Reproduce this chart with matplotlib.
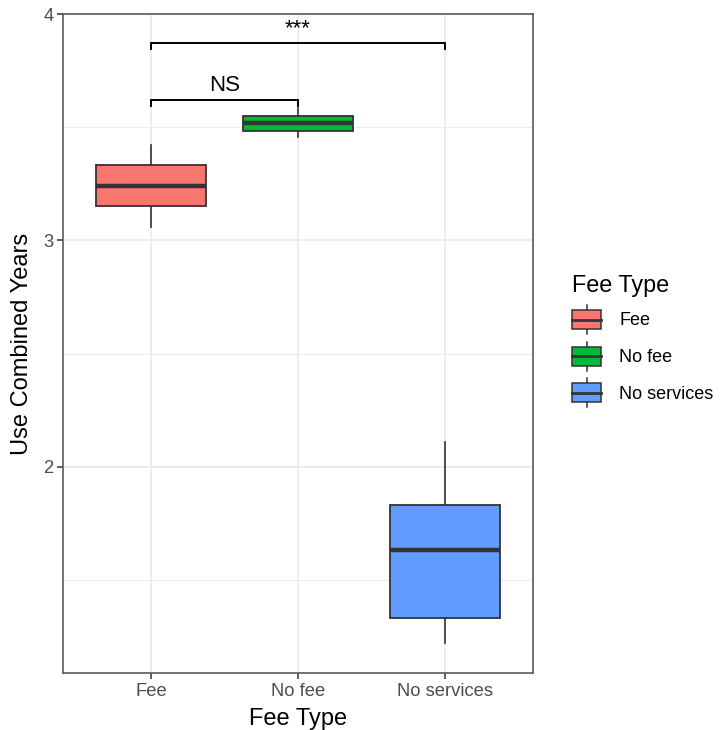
import matplotlib
matplotlib.use("Agg")
import matplotlib.pyplot as plt
from matplotlib.legend_handler import HandlerBase
from matplotlib.patches import Rectangle
from matplotlib.lines import Line2D

plt.rcParams['font.family'] = ['Liberation Sans', 'DejaVu Sans']

categories = ["Fee", "No fee", "No services"]
whisker_low = [3.061, 3.455, 1.223]
q1 = [3.151, 3.484, 1.331]
medians = [3.242, 3.517, 1.632]
q3 = [3.332, 3.551, 1.831]
whisker_high = [3.420, 3.583, 2.108]
colors = ["#F8766D", "#00BA38", "#619CFF"]

sig_pairs = [(1, 2), (1, 3)]
sig_labels = ["NS", "***"]
sig_heights = [3.620, 3.871]

fig = plt.figure(figsize=(7.2, 7.3), dpi=100)
ax = fig.add_axes([0.0875, 0.0781, 0.6528, 0.9027])

stats = []
for i, c in enumerate(categories):
    stats.append(dict(label=c, whislo=whisker_low[i], q1=q1[i], med=medians[i],
                      q3=q3[i], whishi=whisker_high[i], fliers=[]))

edge = "#333333"
bp = ax.bxp(stats, positions=[1, 2, 3], widths=0.75, patch_artist=True,
            showcaps=False, showfliers=False,
            boxprops=dict(edgecolor=edge, linewidth=1.3),
            medianprops=dict(color=edge, linewidth=3.2, solid_capstyle='butt'),
            whiskerprops=dict(color=edge, linewidth=1.2), zorder=3)
for patch, col in zip(bp['boxes'], colors):
    patch.set_facecolor(col)

ax.set_xlim(0.4, 3.6)
ax.set_ylim(1.089, 4.0)
ax.set_yticks([2, 3, 4])
ax.set_yticks([1.5, 2.5, 3.5], minor=True)
ax.set_xticks([1, 2, 3])
ax.set_xticklabels(categories)
ax.grid(which='major', color='#EBEBEB', linewidth=1.3, zorder=0)
ax.grid(which='minor', axis='y', color='#EBEBEB', linewidth=0.7, zorder=0)
ax.set_axisbelow(True)
ax.tick_params(which='major', length=4, width=1.1, color='#333333',
               labelsize=13.2, labelcolor='#4D4D4D', pad=3)
ax.tick_params(which='minor', length=0)
for s in ax.spines.values():
    s.set_color('#5a5a5a')
    s.set_linewidth(1.2)

ax.set_xlabel("Fee Type", fontsize=17, labelpad=6)
ax.set_ylabel("Use Combined Years", fontsize=17, labelpad=7)

# significance brackets
tip = 0.026
for (a, b), lab, h in zip(sig_pairs, sig_labels, sig_heights):
    ax.plot([a, a, b, b], [h - tip, h, h, h - tip], color='black', linewidth=1.4,
            zorder=4, solid_joinstyle='miter')
    ax.annotate(lab, xy=((a + b) / 2, h), xytext=(0, 6.5), textcoords='offset points',
                ha='center', va='baseline', fontsize=16)


class HandlerBox(HandlerBase):
    def create_artists(self, legend, orig_handle, xdescent, ydescent, width,
                       height, fontsize, trans):
        x0, y0 = -xdescent, -ydescent
        cx = x0 + width / 2
        b0 = y0 + height * 0.17
        b1 = y0 + height * 0.83
        arts = [
            Line2D([cx, cx], [y0, b0], color=edge, lw=1.1, transform=trans),
            Line2D([cx, cx], [b1, y0 + height], color=edge, lw=1.1, transform=trans),
            Rectangle((x0, b0), width, b1 - b0, facecolor=orig_handle.get_facecolor(),
                      edgecolor=edge, lw=1.1, transform=trans),
            Line2D([x0, x0 + width], [y0 + height / 2] * 2, color=edge, lw=2.0,
                   transform=trans),
        ]
        return arts


handles = [Rectangle((0, 0), 1, 1, facecolor=c) for c in colors]
leg = fig.legend(handles, categories, loc='center left', bbox_to_anchor=(0.782, 0.533),
                 frameon=False, fontsize=13, title="Fee Type", title_fontsize=16.8,
                 handler_map={Rectangle: HandlerBox()}, handlelength=1.6,
                 handleheight=2.1, labelspacing=0.42, handletextpad=1.0,
                 borderpad=0, alignment='left')

fig.savefig("out.png", dpi=100)
